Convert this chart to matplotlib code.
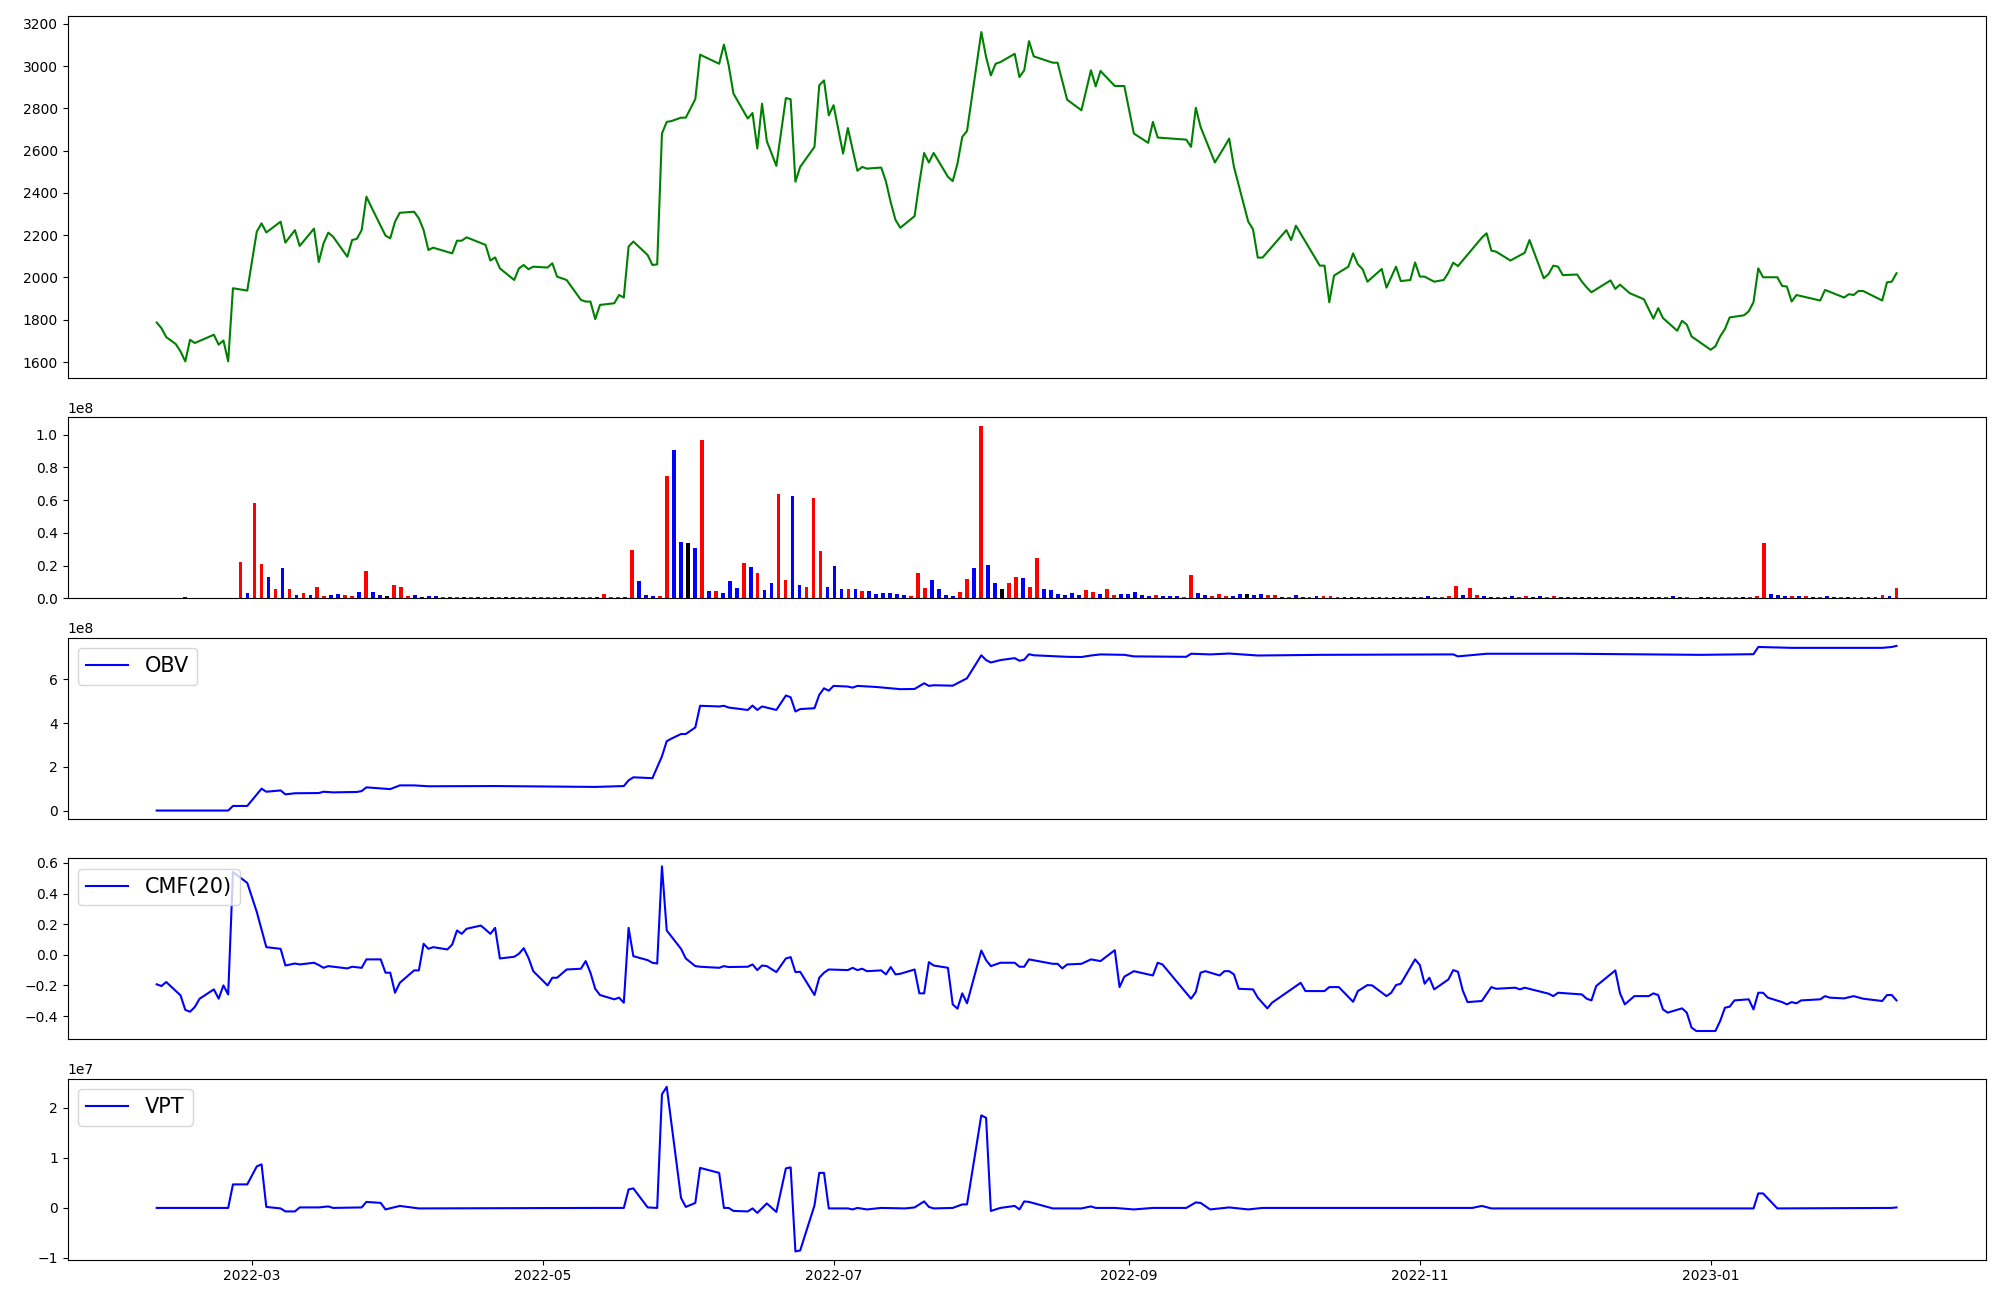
import numpy as np
import pandas as pd
import matplotlib
matplotlib.use('Agg')
import matplotlib.pyplot as plt

start = pd.Timestamp('2022-02-09')
end = pd.Timestamp('2023-02-09')

# close price, read at its turning points (days since start, value)
price_day = [0, 1, 2, 4, 5, 6, 7, 8, 12, 13, 14, 15, 16, 19, 21, 22, 23, 26, 27, 29,
             30, 33, 34, 35, 36, 37, 40, 41, 42, 43, 44, 45, 48, 49, 50, 51, 54, 55, 56, 57,
             58, 62, 63, 64, 65, 69, 70, 71, 72, 75, 76, 77, 78, 79, 82, 83, 84, 86, 89, 90,
             91, 92, 93, 96, 97, 98, 99, 100, 103, 104, 105, 106, 107, 108, 110, 111, 113, 114, 118, 119,
             120, 121, 124, 125, 126, 127, 128, 130, 132, 133, 134, 135, 138, 139, 140, 141, 142, 144, 145, 147,
             148, 149, 152, 153, 154, 155, 156, 159, 160, 161, 162, 163, 166, 167, 168, 169, 170, 173, 174, 175,
             176, 177, 180, 181, 182, 183, 184, 188, 189, 191, 194, 196, 197, 198, 201, 203, 205, 208, 209, 210,
             216, 217, 218, 219, 222, 224, 225, 226, 229, 230, 231, 232, 237, 238, 239, 244, 245, 246, 247, 250,
             251, 252, 253, 254, 257, 258, 260, 261, 263, 264, 265, 266, 268, 270, 271, 272, 273, 278, 279, 280,
             281, 284, 287, 288, 289, 291, 292, 293, 294, 295, 298, 299, 300, 301, 305, 306, 307, 309, 312, 314,
             315, 316, 319, 320, 321, 322, 326, 327, 328, 329, 330, 333, 334, 335, 336, 337, 340, 341, 342, 343,
             344, 349, 350, 354, 355, 356, 357, 358, 362, 363, 364, 365]
price = [1787, 1760, 1718, 1685, 1650, 1603, 1705, 1690, 1729, 1682, 1702, 1603, 1949, 1938, 2217, 2256, 2213, 2264, 2165, 2224,
         2149, 2231, 2073, 2161, 2212, 2193, 2098, 2177, 2183, 2224, 2382, 2335, 2198, 2185, 2264, 2306, 2311, 2280, 2224, 2130,
         2141, 2114, 2174, 2174, 2190, 2154, 2080, 2095, 2043, 1988, 2043, 2059, 2039, 2051, 2047, 2067, 2004, 1988, 1894, 1886,
         1886, 1803, 1870, 1878, 1917, 1905, 2146, 2170, 2106, 2059, 2062, 2681, 2736, 2740, 2756, 2756, 2844, 3054, 3011, 3102,
         3003, 2870, 2752, 2778, 2610, 2822, 2645, 2528, 2849, 2843, 2453, 2523, 2618, 2909, 2932, 2767, 2815, 2586, 2707, 2505,
         2523, 2515, 2520, 2453, 2355, 2272, 2235, 2290, 2448, 2589, 2544, 2589, 2476, 2456, 2539, 2665, 2693, 3161, 3043, 2956,
         3011, 3019, 3058, 2948, 2980, 3118, 3046, 3016, 3016, 2841, 2791, 2980, 2904, 2977, 2906, 2906, 2681, 2637, 2736, 2662,
         2652, 2618, 2803, 2712, 2544, 2618, 2657, 2523, 2264, 2228, 2094, 2094, 2224, 2177, 2245, 2056, 2056, 1883, 2009, 2051,
         2114, 2062, 2039, 1980, 2040, 1952, 2051, 1983, 1988, 2071, 2004, 2004, 1980, 1988, 2023, 2070, 2054, 2188, 2209, 2127,
         2122, 2080, 2117, 2177, 2117, 1996, 2016, 2056, 2051, 2011, 2014, 1980, 1953, 1930, 1986, 1946, 1966, 1926, 1897, 1805,
         1855, 1808, 1748, 1795, 1777, 1721, 1658, 1674, 1721, 1756, 1811, 1821, 1840, 1883, 2043, 2001, 2001, 1960, 1957, 1886,
         1917, 1891, 1941, 1905, 1921, 1917, 1936, 1936, 1891, 1977, 1980, 2020]

# daily volume in millions, and the day's direction (1 up, -1 down, 0 flat)
volume_m = [0, 0, 0, 0, 0.5, 0, 0, 0, 0, 0, 0, 0, 22.1, 3.2, 58, 20.9, 13, 5.7, 18.4, 5.7,
            2, 3.2, 2, 6.9, 1.4, 2, 2.6, 2, 1.4, 3.9, 16.6, 3.9, 2, 1.4, 8.1, 6.9, 1.4, 2, 0.8, 1.4,
            1.4, 0.8, 0.8, 0.8, 0.8, 0.8, 0.8, 0.8, 0.8, 0.8, 0.8, 0.8, 0.8, 0.8, 0.8, 0.8, 0.8, 0.8, 0.8, 0.8,
            0.8, 0.8, 0.8, 0.8, 2.6, 0.8, 0.8, 0.8, 29.4, 10.5, 2, 1.4, 1.4, 75, 90.8, 34.2, 33.6, 30.6, 96.9, 4.5,
            4.5, 3.2, 10.5, 6.3, 21.5, 19, 15.4, 5.1, 9.3, 64, 11.1, 62.8, 8.1, 6.9, 61, 28.8, 6.9, 19.7, 5.7, 5.7,
            5.7, 4.5, 4.5, 2.6, 3.2, 3.2, 2.6, 2, 1.4, 15.4, 6.3, 11.1, 5.7, 2, 1.4, 3.9, 11.8, 18.4, 105.4, 20.3,
            9.3, 5.7, 9.3, 13, 12.4, 6.9, 24.5, 5.7, 5.1, 2.6, 2, 3.2, 2, 5.1, 3.9, 2.6, 5.7, 2, 2.6, 2.6,
            3.9, 2, 1.4, 2, 1.4, 1.4, 1.4, 0.8, 14.2, 3.2, 2, 1.4, 2.6, 1.4, 1.4, 2.6, 2.6, 2, 2.6, 2,
            2, 0.8, 0.8, 2, 0.8, 0.8, 1.4, 1.4, 1.4, 0.8, 0.8, 0.8, 0.8, 0.8, 0.8, 0.8, 0.8, 0.8, 0.8, 0.8,
            0.8, 0.8, 1.4, 0.8, 0.8, 1.4, 7.5, 2, 6.3, 2, 1.4, 0.8, 0.8, 0.8, 1.4, 0.8, 1.4, 0.8, 1.4, 0.8,
            1.4, 0.8, 0.8, 0.8, 0.8, 0.8, 0.8, 0.8, 0.8, 0.8, 0.8, 0.8, 0.8, 0.8, 0.8, 0.8, 0.8, 1.4, 0.8, 0.8,
            0, 0.8, 0.8, 0.8, 0.8, 0.8, 0.8, 0.8, 0.8, 1.4, 33.6, 2.6, 2, 1.4, 1.4, 1.4, 1.4, 0.8, 0.8, 1.4,
            0.8, 0.8, 0.8, 0.8, 0.8, 0.8, 0.8, 2, 1.4, 6.3]
direction = [0, 0, 0, 0, -1, 0, 0, 0, 0, 0, 0, 0, 1, -1, 1, 1, -1, 1, -1, 1,
             -1, 1, -1, 1, 1, -1, -1, 1, 1, -1, 1, -1, -1, 0, 1, 1, 1, -1, -1, -1,
             -1, 1, -1, 1, -1, 1, -1, 1, -1, 1, -1, -1, 1, 1, -1, 1, 1, 1, -1, 1,
             -1, 1, 1, -1, 1, 1, 1, -1, 1, -1, -1, -1, 1, 1, -1, -1, 0, -1, 1, -1,
             1, -1, -1, -1, 1, -1, 1, -1, -1, 1, 1, -1, -1, 1, 1, 1, -1, -1, -1, 1,
             -1, 1, -1, -1, -1, -1, -1, -1, 1, 1, 1, -1, -1, -1, -1, 1, 1, -1, 1, -1,
             -1, 0, 1, 1, -1, 1, 1, -1, -1, -1, -1, -1, -1, 1, 1, -1, 1, 1, -1, -1,
             -1, -1, -1, 1, -1, -1, -1, 1, 1, -1, -1, 1, 1, 1, -1, -1, 0, -1, -1, 1,
             1, -1, 1, -1, -1, 1, -1, 1, 1, 1, -1, -1, -1, 1, -1, -1, 1, -1, -1, 1,
             -1, 1, -1, 1, 1, 1, 1, -1, 1, 1, -1, -1, 1, -1, -1, 1, 1, -1, -1, 1,
             1, -1, -1, -1, -1, -1, -1, -1, 1, -1, 1, -1, 0, -1, -1, -1, 1, -1, -1, 1,
             0, -1, -1, 1, 1, 1, 1, 0, 1, 1, 1, -1, -1, -1, 1, -1, 1, -1, 1, -1,
             -1, 1, -1, 1, 1, -1, -1, 1, -1, 1]

obv_day = [0, 15, 16, 19, 22, 23, 26, 27, 29, 34, 35, 37, 42, 43, 44, 49, 51, 54, 57, 71,
           92, 98, 99, 100, 104, 106, 107, 108, 110, 111, 113, 114, 118, 119, 120, 124, 125, 126, 127, 130,
           132, 133, 134, 135, 138, 139, 140, 141, 142, 145, 146, 147, 151, 156, 159, 161, 162, 163, 167, 170,
           173, 174, 175, 177, 180, 181, 182, 183, 184, 191, 194, 196, 198, 203, 205, 216, 217, 221, 225, 231,
           244, 271, 272, 273, 279, 297, 324, 335, 336, 343, 350, 362, 364, 365]
obv_e8 = [0, 0, 0.21, 0.21, 1.0, 0.86, 0.92, 0.74, 0.79, 0.80, 0.86, 0.83, 0.85, 0.89, 1.06, 0.98, 1.15, 1.15, 1.11, 1.12,
          1.08, 1.12, 1.38, 1.52, 1.48, 2.48, 3.17, 3.29, 3.5, 3.5, 3.8, 4.79, 4.76, 4.79, 4.71, 4.6, 4.8, 4.6, 4.76, 4.6,
          5.26, 5.18, 4.53, 4.64, 4.68, 5.29, 5.59, 5.48, 5.70, 5.67, 5.62, 5.70, 5.65, 5.55, 5.56, 5.82, 5.70, 5.73, 5.71, 6.05,
          7.1, 6.88, 6.77, 6.88, 6.97, 6.85, 6.9, 7.15, 7.1, 7.03, 7.02, 7.09, 7.14, 7.12, 7.05, 7.03, 7.17, 7.14, 7.18, 7.09,
          7.12, 7.14, 7.14, 7.05, 7.17, 7.17, 7.12, 7.15, 7.48, 7.44, 7.44, 7.44, 7.48, 7.53]

cmf_day = [0, 1, 2, 5, 6, 7, 8, 9, 12, 13, 14, 15, 16, 19, 21, 23, 26, 27, 29, 30,
           33, 34, 35, 36, 40, 41, 43, 44, 47, 48, 49, 50, 51, 54, 55, 56, 57, 58, 61, 62,
           63, 64, 65, 68, 69, 70, 71, 72, 75, 76, 77, 78, 79, 82, 83, 84, 86, 89, 90, 91,
           92, 93, 96, 97, 98, 99, 100, 103, 104, 105, 106, 107, 110, 111, 113, 114, 118, 119, 120, 124,
           125, 126, 127, 128, 130, 132, 133, 134, 135, 138, 139, 140, 141, 145, 146, 147, 148, 149, 152, 153,
           154, 155, 156, 159, 160, 161, 162, 163, 166, 167, 168, 169, 170, 173, 174, 175, 177, 180, 181, 182,
           183, 188, 189, 190, 191, 194, 196, 198, 201, 202, 203, 205, 208, 209, 210, 211, 217, 218, 219, 220,
           223, 224, 225, 226, 227, 230, 231, 233, 234, 240, 241, 245, 246, 248, 251, 252, 254, 255, 258, 259,
           260, 261, 264, 265, 266, 267, 268, 271, 272, 273, 274, 275, 278, 280, 281, 285, 286, 287, 292, 293,
           294, 299, 300, 301, 302, 306, 307, 308, 310, 313, 314, 315, 316, 317, 320, 321, 322, 323, 327, 328,
           329, 330, 331, 334, 335, 336, 337, 338, 341, 342, 343, 344, 345, 349, 350, 351, 354, 356, 358, 362,
           363, 364, 365]
cmf = [-0.193, -0.204, -0.178, -0.265, -0.36, -0.372, -0.341, -0.287, -0.226, -0.287, -0.2, -0.259, 0.541, 0.47, 0.28, 0.05, 0.039, -0.07, -0.057, -0.063,
       -0.052, -0.067, -0.085, -0.074, -0.089, -0.078, -0.085, -0.03, -0.03, -0.117, -0.117, -0.248, -0.183, -0.102, -0.102, 0.072, 0.039, 0.05, 0.035, 0.067,
       0.159, 0.137, 0.17, 0.191, 0.165, 0.137, 0.176, -0.024, -0.013, 0.007, 0.043, -0.02, -0.107, -0.2, -0.15, -0.15, -0.096, -0.091, -0.041, -0.117,
       -0.222, -0.263, -0.291, -0.28, -0.313, 0.176, -0.009, -0.035, -0.052, -0.057, 0.578, 0.159, 0.039, -0.024, -0.074, -0.078, -0.085, -0.074, -0.08, -0.078,
       -0.063, -0.1, -0.07, -0.074, -0.113, -0.024, -0.015, -0.113, -0.111, -0.263, -0.15, -0.117, -0.096, -0.1, -0.085, -0.1, -0.091, -0.107, -0.102, -0.128,
       -0.08, -0.128, -0.124, -0.096, -0.252, -0.252, -0.048, -0.07, -0.085, -0.324, -0.352, -0.252, -0.317, 0.028, -0.035, -0.074, -0.052, -0.052, -0.078, -0.078,
       -0.03, -0.059, -0.059, -0.089, -0.063, -0.059, -0.03, -0.041, 0.03, -0.211, -0.143, -0.107, -0.128, -0.135, -0.052, -0.063, -0.287, -0.243, -0.117, -0.107,
       -0.135, -0.107, -0.107, -0.128, -0.222, -0.226, -0.28, -0.35, -0.313, -0.183, -0.237, -0.237, -0.211, -0.211, -0.307, -0.237, -0.198, -0.2, -0.27, -0.248,
       -0.198, -0.189, -0.03, -0.067, -0.189, -0.15, -0.226, -0.161, -0.1, -0.111, -0.233, -0.309, -0.302, -0.211, -0.222, -0.215, -0.226, -0.215, -0.254, -0.27,
       -0.248, -0.259, -0.287, -0.298, -0.204, -0.102, -0.252, -0.324, -0.27, -0.27, -0.252, -0.263, -0.357, -0.378, -0.35, -0.378, -0.476, -0.498, -0.498, -0.433,
       -0.346, -0.339, -0.298, -0.291, -0.357, -0.248, -0.248, -0.28, -0.309, -0.324, -0.309, -0.317, -0.298, -0.291, -0.27, -0.28, -0.285, -0.27, -0.287, -0.302,
       -0.263, -0.263, -0.298]

vpt_day = [0, 15, 16, 19, 21, 22, 23, 26, 27, 29, 30, 34, 36, 37, 43, 44, 47, 48, 51, 55,
           92, 98, 99, 100, 103, 105, 106, 107, 110, 111, 113, 114, 118, 119, 120, 121, 124, 125, 126, 128,
           130, 132, 133, 134, 135, 138, 139, 140, 141, 145, 146, 147, 149, 152, 157, 159, 161, 162, 163, 167,
           169, 170, 173, 174, 175, 177, 180, 181, 182, 183, 188, 191, 194, 196, 197, 201, 205, 209, 216, 218,
           219, 221, 225, 229, 232, 258, 276, 278, 280, 335, 336, 337, 340, 364, 365]
vpt_e7 = [0, 0, 0.47, 0.47, 0.83, 0.87, 0.02, -0.01, -0.07, -0.07, 0.01, 0.01, 0.03, 0, 0.01, 0.12, 0.1, -0.03, 0.04, -0.01,
          0, 0, 0.37, 0.39, 0.01, 0, 2.27, 2.42, 0.2, 0.02, 0.1, 0.8, 0.7, 0, 0, -0.06, -0.07, -0.01, -0.1, 0.09,
          -0.08, 0.79, 0.81, -0.87, -0.85, 0.05, 0.7, 0.7, -0.01, -0.01, -0.03, 0, -0.03, 0, -0.01, 0.01, 0.13, 0.02, -0.01, 0,
          0.07, 0.07, 1.85, 1.8, -0.06, 0, 0.04, -0.03, 0.13, 0.12, -0.01, -0.01, -0.01, 0.03, 0, 0, -0.03, 0, 0, 0.11,
          0.1, -0.03, 0.01, -0.03, 0, 0, 0, 0.04, -0.01, -0.01, 0.29, 0.29, -0.01, 0, 0.01]


def days(d):
    return start + pd.to_timedelta(d, unit='D')


dates = pd.date_range(start, end, periods=len(volume_m))
volume = np.array(volume_m) * 1e6
bar_colors = ['red' if s > 0 else 'blue' if s < 0 else 'black' for s in direction]

fig, axes = plt.subplots(5, 1, figsize=(20, 13), sharex=True,
                         gridspec_kw={'height_ratios': [2, 1, 1, 1, 1]})
plt.subplots_adjust(left=0.0338, right=0.9928, top=0.988, bottom=0.031, hspace=0.181)

axes[0].plot(days(price_day), price, color='green', linewidth=1.5)

axes[1].bar(dates, volume, width=0.8, color=bar_colors)

axes[2].plot(days(obv_day), np.array(obv_e8) * 1e8, color='blue', linewidth=1.5, label='OBV')
axes[2].legend(loc='upper left', fontsize=15)

axes[3].plot(days(cmf_day), cmf, color='blue', linewidth=1.5, label='CMF(20)')
axes[3].legend(loc='upper left', fontsize=15)

axes[4].plot(days(vpt_day), np.array(vpt_e7) * 1e7, color='blue', linewidth=1.5, label='VPT')
axes[4].legend(loc='upper left', fontsize=15)

for ax in axes[:4]:
    ax.tick_params(axis='x', bottom=False, labelbottom=False)

plt.savefig('out.png', dpi=100)
